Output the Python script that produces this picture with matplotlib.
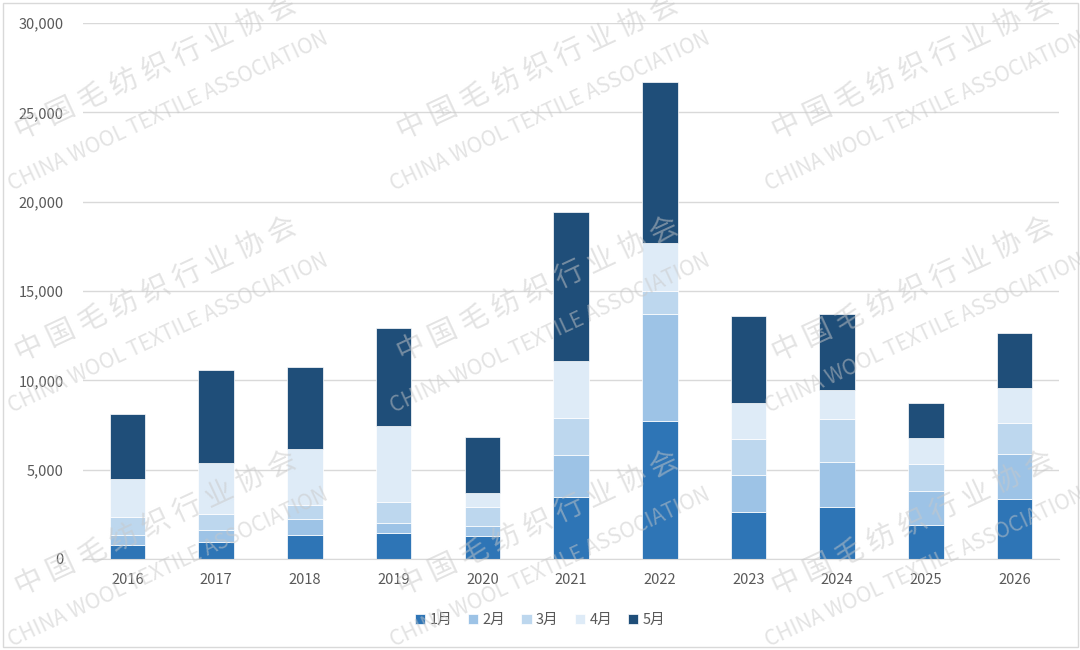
import numpy as np
import matplotlib.pyplot as plt
from matplotlib.patches import Rectangle
from matplotlib.ticker import FuncFormatter

plt.rcParams['font.family'] = ['Noto Sans CJK SC', 'DejaVu Sans']

years = ['2016', '2017', '2018', '2019', '2020', '2021', '2022', '2023', '2024', '2025', '2026']
month_labels = ['1月', '2月', '3月', '4月', '5月']

m1 = [800, 970, 1340, 1450, 1290, 3450, 7740, 2630, 2930, 1890, 3340]
m2 = [560, 640, 880, 560, 560, 2390, 5970, 2070, 2480, 1940, 2540]
m3 = [970, 930, 800, 1175, 1080, 2050, 1265, 2000, 2410, 1510, 1750]
m4 = [2150, 2850, 3120, 4270, 780, 3170, 2710, 2050, 1640, 1420, 1960]
m5 = [3650, 5190, 4590, 5470, 3130, 8360, 8990, 4850, 4240, 1990, 3060]

colors = ['#2E75B6', '#9DC3E6', '#BDD7EE', '#DEEBF7', '#1F4E79']


def draw_bars(ax):
    x = np.arange(len(years))
    bottom = np.zeros(len(years))
    for vals, lab, col in zip([m1, m2, m3, m4, m5], month_labels, colors):
        ax.bar(x, vals, width=0.4, bottom=bottom, color=col, label=lab,
               edgecolor='white', linewidth=0.5, zorder=2)
        bottom += np.array(vals)
    ax.set_xticks(x)
    ax.set_xticklabels(years)
    ax.set_xlim(-0.5, len(years) - 0.5)


def style_axes(ax):
    ax.set_ylim(0, 30000)
    ax.set_yticks(range(0, 30001, 5000))
    ax.yaxis.set_major_formatter(FuncFormatter(lambda v, p: f'{int(v):,}'))
    ax.grid(axis='y', color='#d9d9d9', linewidth=1, zorder=0)
    ax.set_axisbelow(True)
    for s in ['top', 'right', 'left']:
        ax.spines[s].set_visible(False)
    ax.spines['bottom'].set_color('#d9d9d9')
    ax.tick_params(axis='both', length=0, labelsize=10.5, labelcolor='#595959')
    ax.tick_params(axis='y', pad=14)
    ax.tick_params(axis='x', pad=10)


def add_watermark(fig):
    # repeated watermark text, in pixel positions of the figure
    for cy in [112, 334, 568]:
        for cx in [168, 550, 925]:
            fig.text((cx - 12) / 1080, 1 - (cy - 45) / 650, '中 国 毛 纺 织 行 业 协 会',
                     fontsize=20.5, color='#c8c8c8', alpha=0.5, rotation=25,
                     ha='center', va='center', zorder=5)
            fig.text(cx / 1080, 1 - cy / 650, 'CHINA WOOL TEXTILE ASSOCIATION',
                     fontsize=15, color='#c8c8c8', alpha=0.5, rotation=25,
                     ha='center', va='center', zorder=5)


def main():
    fig = plt.figure(figsize=(10.8, 6.5), dpi=100)
    ax = fig.add_axes([0.0769, 0.14, 0.9037, 0.8246])
    draw_bars(ax)
    style_axes(ax)

    ax.legend(loc='center', bbox_to_anchor=(0.5, 1 - 620 / 650), bbox_transform=fig.transFigure,
              ncol=5, frameon=False, fontsize=10.5, handlelength=0.7, handleheight=0.7,
              handletextpad=0.3, columnspacing=1.1, labelcolor='#595959')

    fig.patches.append(Rectangle((3 / 1080, 3 / 650), 1075 / 1080, 644 / 650,
                                 transform=fig.transFigure, fill=False,
                                 edgecolor='#d9d9d9', linewidth=1))
    add_watermark(fig)
    fig.savefig('out.png', dpi=100)


main()
